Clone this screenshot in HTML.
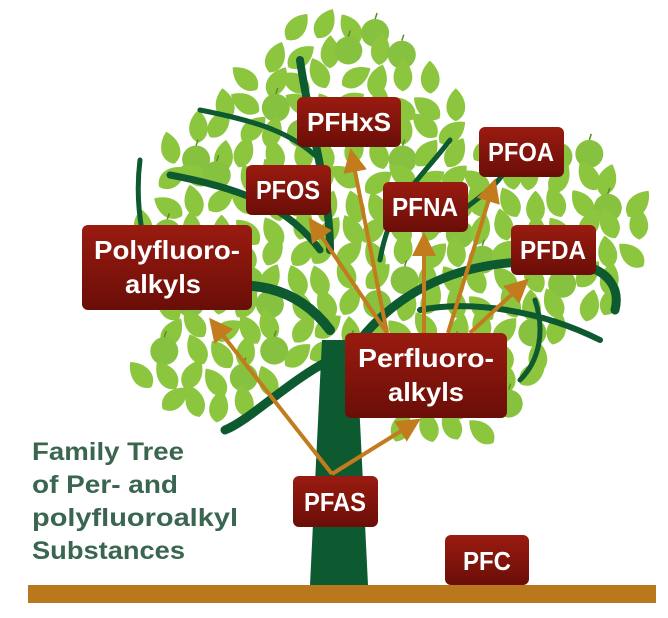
<!DOCTYPE html>
<html><head><meta charset="utf-8"><style>
html,body{margin:0;padding:0;background:#fff;}
svg{display:block;}
.bt{font-family:"Liberation Sans",sans-serif;font-weight:bold;fill:#fff;font-size:26px;}
.tt{font-family:"Liberation Sans",sans-serif;font-weight:bold;fill:#3a6650;font-size:25px;}
</style></head><body>
<svg id="s" width="668" height="618" viewBox="0 0 668 618" xmlns="http://www.w3.org/2000/svg">
<defs>
<linearGradient id="g" x1="0" y1="0" x2="0" y2="1"><stop offset="0" stop-color="#9a1b10"/><stop offset="1" stop-color="#6a0e08"/></linearGradient>
<marker id="ah" markerWidth="6" markerHeight="6" refX="4" refY="3" orient="auto" markerUnits="strokeWidth"><path d="M0,0 L6,3 L0,6 Z" fill="#c27c1e"/></marker>
<path id="leaf" d="M0,-19 C13,-7 12,9 0,14 C-12,9 -13,-7 0,-19Z" fill="#8cc63f"/>
</defs>
<g id="leaves"></g>
<g fill="none" stroke="#0d5a30" stroke-linecap="round">
<path d="M330,330 C300,290 250,270 175,300" stroke-width="10"/>
<path d="M320,250 C290,210 250,190 170,175" stroke-width="7"/>
<path d="M170,300 C140,260 135,200 140,160" stroke-width="5"/>
<path d="M330,250 C330,190 310,130 300,60" stroke-width="8"/>
<path d="M320,160 C290,130 250,120 200,110" stroke-width="5"/>
<path d="M360,340 C400,290 470,250 580,265 C610,270 620,290 615,310" stroke-width="9"/>
<path d="M420,310 C470,300 540,310 600,340" stroke-width="6"/>
<path d="M380,260 C390,200 420,180 450,140" stroke-width="5"/>
<path d="M440,230 C470,200 500,190 510,160" stroke-width="5"/>
<path d="M520,380 C540,360 545,330 535,300" stroke-width="5"/>
<path d="M330,360 C290,380 250,420 225,430" stroke-width="9"/>
</g>
<path d="M310,585 L322,340 L356,340 L368,585 Z" fill="#0d5a30"/>
<rect x="28" y="585" width="628" height="18" fill="#b9781e"/>
<g stroke="#c27c1e" stroke-width="4" fill="none" marker-end="url(#ah)">
<line x1="332" y1="474" x2="214" y2="324"/>
<line x1="332" y1="474" x2="414" y2="423"/>
<line x1="387" y1="333" x2="313" y2="224"/>
<line x1="387" y1="333" x2="352" y2="156"/>
<line x1="424" y1="333" x2="424" y2="240"/>
<line x1="448" y1="333" x2="493" y2="186"/>
<line x1="470" y1="333" x2="523" y2="284"/>
</g>
<g>
<rect x="297" y="97" width="104" height="50" rx="6" fill="url(#g)"/>
<text class="bt" x="349" y="131" text-anchor="middle" textLength="84" lengthAdjust="spacingAndGlyphs">PFHxS</text>
<rect x="246" y="165" width="85" height="50" rx="6" fill="url(#g)"/>
<text class="bt" x="288" y="199" text-anchor="middle" textLength="64" lengthAdjust="spacingAndGlyphs">PFOS</text>
<rect x="383" y="182" width="85" height="50" rx="6" fill="url(#g)"/>
<text class="bt" x="425" y="216" text-anchor="middle" textLength="66" lengthAdjust="spacingAndGlyphs">PFNA</text>
<rect x="479" y="127" width="85" height="50" rx="6" fill="url(#g)"/>
<text class="bt" x="521" y="161" text-anchor="middle" textLength="66" lengthAdjust="spacingAndGlyphs">PFOA</text>
<rect x="511" y="225" width="85" height="50" rx="6" fill="url(#g)"/>
<text class="bt" x="553" y="259" text-anchor="middle" textLength="66" lengthAdjust="spacingAndGlyphs">PFDA</text>
<rect x="82" y="225" width="170" height="85" rx="6" fill="url(#g)"/>
<text class="bt" x="167" y="259" text-anchor="middle" textLength="146" lengthAdjust="spacingAndGlyphs">Polyfluoro-</text>
<text class="bt" x="163" y="293" text-anchor="middle" textLength="76" lengthAdjust="spacingAndGlyphs">alkyls</text>
<rect x="345" y="333" width="162" height="85" rx="6" fill="url(#g)"/>
<text class="bt" x="426" y="367" text-anchor="middle" textLength="136" lengthAdjust="spacingAndGlyphs">Perfluoro-</text>
<text class="bt" x="426" y="401" text-anchor="middle" textLength="76" lengthAdjust="spacingAndGlyphs">alkyls</text>
<rect x="293" y="476" width="85" height="51" rx="6" fill="url(#g)"/>
<text class="bt" x="335" y="511" text-anchor="middle" textLength="62" lengthAdjust="spacingAndGlyphs">PFAS</text>
<rect x="445" y="535" width="84" height="50" rx="6" fill="url(#g)"/>
<text class="bt" x="487" y="570" text-anchor="middle" textLength="48" lengthAdjust="spacingAndGlyphs">PFC</text>
</g>
<text class="tt" x="32" y="460" textLength="152" lengthAdjust="spacingAndGlyphs">Family Tree</text>
<text class="tt" x="32" y="493" textLength="146" lengthAdjust="spacingAndGlyphs">of Per- and</text>
<text class="tt" x="32" y="526" textLength="206" lengthAdjust="spacingAndGlyphs">polyfluoroalkyl</text>
<text class="tt" x="32" y="559" textLength="153" lengthAdjust="spacingAndGlyphs">Substances</text>
</svg>
<script>
(function(){
var E=[[340,150,125,118],[250,250,112,145],[500,235,150,105],[440,360,100,82],[205,370,65,50],[330,60,70,45]];
function inside(x,y){for(var i=0;i<E.length;i++){var e=E[i],dx=(x-e[0])/e[2],dy=(y-e[1])/e[3];if(dx*dx+dy*dy<1)return true;}return false;}
var seed=11;function r(){seed=(seed*16807)%2147483647;return (seed-1)/2147483646;}
var g=document.getElementById('leaves'),out='';
for(var y=30;y<450;y+=25){for(var x=130;x<665;x+=26){var px=x+(r()-0.5)*10+((y/25)%2?13:0),py=y+(r()-0.5)*10;
if(!inside(px,py))continue;
if(r()<0.15){out+='<circle cx="'+px.toFixed(1)+'" cy="'+py.toFixed(1)+'" r="14" fill="#86c140"/><path d="M'+px.toFixed(1)+','+(py-14).toFixed(1)+' l2,-6" stroke="#5a8a2a" stroke-width="1.5"/>';}
else{var a=(r()-0.5)*120;out+='<use href="#leaf" transform="translate('+px.toFixed(1)+','+py.toFixed(1)+') rotate('+a.toFixed(0)+')"/>';}}}
g.innerHTML=out;})();
</script>
</body></html>
